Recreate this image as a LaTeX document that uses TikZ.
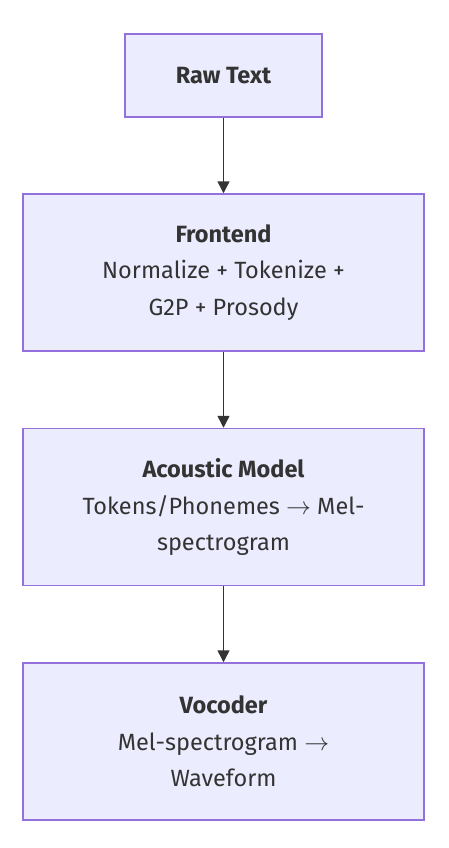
\documentclass[tikz,border=0pt]{standalone}
\usepackage{fontspec}
\setmainfont{Fira Sans}
\usetikzlibrary{arrows.meta}
\definecolor{boxfill}{HTML}{ECECFF}
\definecolor{boxdraw}{HTML}{9370DB}
\definecolor{ink}{HTML}{333333}
\tikzset{
  box/.style={draw=boxdraw, fill=boxfill, line width=1.5pt, text=ink, align=center,
    font=\fontsize{23.5}{36.5}\selectfont, inner sep=0pt},
  flow/.style={draw=ink, line width=1.5pt, -{Triangle[length=12pt,width=12pt]}}
}
\begin{document}
\begin{tikzpicture}[x=1pt,y=-1pt]
\useasboundingbox (0,0) rectangle (448,848);
\node[box, minimum width=197pt, minimum height=83pt] (raw) at (223.5,75.5) {\bfseries Raw Text};
\node[box, minimum width=401pt, minimum height=157pt] (front) at (223.5,272.5) {\bfseries Frontend\\Normalize + Tokenize +\\G2P + Prosody};
\node[box, minimum width=401pt, minimum height=157pt] (acou) at (223.5,507) {\bfseries Acoustic Model\\Tokens/Phonemes $\rightarrow$ Mel-\\spectrogram};
\node[box, minimum width=401pt, minimum height=157pt] (voc) at (223.5,741.5) {\bfseries Vocoder\\Mel-spectrogram $\rightarrow$\\Waveform};
\draw[flow] (raw) -- (front);
\draw[flow] (front) -- (acou);
\draw[flow] (acou) -- (voc);
\end{tikzpicture}
\end{document}
